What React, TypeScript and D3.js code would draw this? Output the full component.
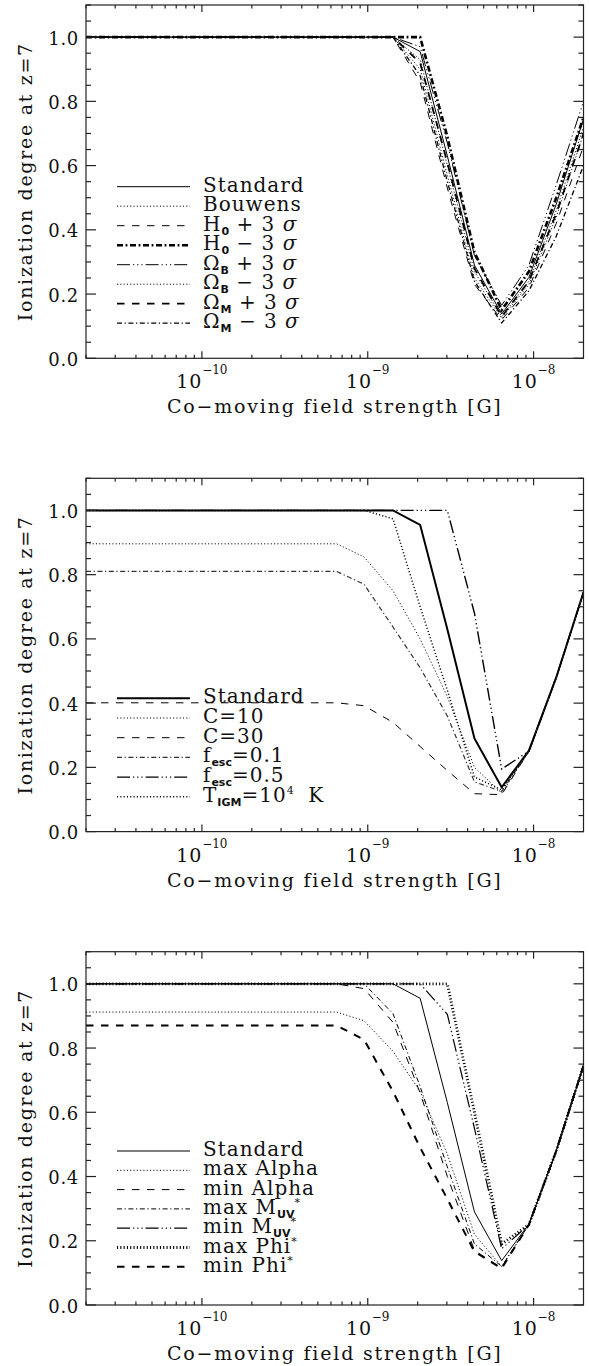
import React from 'react';
import * as d3 from 'd3';

// x grid: co-moving field strength [G]
const fieldStrength = [2e-11, 6.5e-10, 9.5e-10, 1.42e-9, 2.07e-9, 3.02e-9, 4.4e-9, 6.42e-9, 9.37e-9, 1.37e-8, 2e-8];

// panel 1: cosmological parameters
const p1Standard = [1, 1, 1, 1, 0.955, 0.63, 0.29, 0.138, 0.252, 0.48, 0.745];
const p1Bouwens = [1, 1, 1, 1, 0.93, 0.6, 0.27, 0.13, 0.24, 0.46, 0.72];
const p1H0Plus = [1, 1, 1, 1, 0.86, 0.53, 0.23, 0.12, 0.22, 0.42, 0.66];
const p1H0Minus = [1, 1, 1, 1, 1, 0.69, 0.33, 0.15, 0.27, 0.5, 0.75];
const p1ObPlus = [1, 1, 1, 1, 0.97, 0.67, 0.32, 0.165, 0.29, 0.54, 0.8];
const p1ObMinus = [1, 1, 1, 1, 0.9, 0.57, 0.25, 0.125, 0.23, 0.44, 0.7];
const p1OmPlus = [1, 1, 1, 1, 0.92, 0.61, 0.28, 0.13, 0.24, 0.45, 0.7];
const p1OmMinus = [1, 1, 1, 1, 0.88, 0.55, 0.24, 0.11, 0.21, 0.38, 0.6];

// panel 2: clumping, escape fraction, IGM temperature
const p2Standard = [1, 1, 1, 1, 0.955, 0.63, 0.29, 0.138, 0.252, 0.48, 0.745];
const p2C10 = [0.896, 0.896, 0.855, 0.75, 0.6, 0.42, 0.2, 0.12, 0.25, 0.48, 0.745];
const p2C30 = [0.401, 0.401, 0.392, 0.34, 0.265, 0.19, 0.118, 0.115, 0.25, 0.48, 0.745];
const p2Fesc01 = [0.81, 0.81, 0.77, 0.637, 0.51, 0.36, 0.155, 0.125, 0.25, 0.48, 0.745];
const p2Fesc05 = [1, 1, 1, 1, 1, 1, 0.68, 0.195, 0.25, 0.48, 0.745];
const p2Tigm = [1, 1, 1, 0.974, 0.7, 0.44, 0.17, 0.13, 0.25, 0.48, 0.745];

// panel 3: UV luminosity function parameters
const p3Standard = [1, 1, 1, 1, 0.955, 0.63, 0.29, 0.138, 0.252, 0.48, 0.745];
const p3MaxAlpha = [0.912, 0.912, 0.885, 0.79, 0.665, 0.47, 0.22, 0.12, 0.25, 0.48, 0.745];
const p3MinAlpha = [1, 1, 0.985, 0.88, 0.66, 0.4, 0.17, 0.115, 0.25, 0.48, 0.745];
const p3MaxMuv = [1, 1, 1, 0.907, 0.68, 0.43, 0.19, 0.12, 0.25, 0.48, 0.745];
const p3MinMuv = [1, 1, 1, 1, 1, 0.905, 0.55, 0.175, 0.25, 0.48, 0.745];
const p3MaxPhi = [1, 1, 1, 1, 1, 1, 0.6, 0.19, 0.25, 0.48, 0.745];
const p3MinPhi = [0.87, 0.87, 0.826, 0.665, 0.49, 0.33, 0.166, 0.114, 0.25, 0.48, 0.745];

const yMajor = [0, 0.2, 0.4, 0.6, 0.8, 1.0];
const xMajor = [1e-10, 1e-9, 1e-8];
const xMajorExp = ['−10', '−9', '−8'];

const FONT = 'DejaVu Serif';
const W = 589;
const H = 1366;
const BOX = { left: 86, right: 583.5, height: 353.3 };
const PANEL_TOPS = [5, 478.3, 951.7];

const DASH = {
  solid: undefined,
  dotted: '1.1 2.2',
  dashed: '7.5 7.5',
  dashDot: '5 2.6 1.2 2.6',
  thickDashDot: '6 2.6 1.8 2.6',
  dash3Dot: '13 3 1.2 3 1.2 3 1.2 3',
};

type Series = { values: number[]; dash?: string; width: number; color?: string; label: string };

const panels: { legendTop: number; rowGap: number; series: Series[] }[] = [
  {
    legendTop: 181.7,
    rowGap: 19.5,
    series: [
      { values: p1Standard, dash: DASH.solid, width: 1, label: 'Standard' },
      { values: p1Bouwens, dash: DASH.dotted, width: 1, label: 'Bouwens' },
      { values: p1H0Plus, dash: DASH.dashed, width: 1, label: 'H_{0} + 3 σ' },
      { values: p1H0Minus, dash: DASH.thickDashDot, width: 2.6, label: 'H_{0} − 3 σ' },
      { values: p1ObPlus, dash: DASH.dash3Dot, width: 1, label: 'Ω_{B} + 3 σ' },
      { values: p1ObMinus, dash: DASH.dotted, width: 1, label: 'Ω_{B} − 3 σ' },
      { values: p1OmPlus, dash: DASH.dashed, width: 1.8, label: 'Ω_{M} + 3 σ' },
      { values: p1OmMinus, dash: DASH.dashDot, width: 1.3, label: 'Ω_{M} − 3 σ' },
    ],
  },
  {
    legendTop: 220,
    rowGap: 19.7,
    series: [
      { values: p2Standard, dash: DASH.solid, width: 2, label: 'Standard' },
      { values: p2C10, dash: DASH.dotted, width: 1, label: 'C=10' },
      { values: p2C30, dash: DASH.dashed, width: 1, label: 'C=30' },
      { values: p2Fesc01, dash: DASH.dashDot, width: 1.2, color: '#333', label: 'f_{esc}=0.1' },
      { values: p2Fesc05, dash: DASH.dash3Dot, width: 1.4, label: 'f_{esc}=0.5' },
      { values: p2Tigm, dash: DASH.dotted, width: 1.5, label: 'T_{IGM}=10^{4}  K' },
    ],
  },
  {
    legendTop: 199.3,
    rowGap: 19.3,
    series: [
      { values: p3Standard, dash: DASH.solid, width: 1, label: 'Standard' },
      { values: p3MaxAlpha, dash: DASH.dotted, width: 1, label: 'max Alpha' },
      { values: p3MinAlpha, dash: DASH.dashed, width: 1, label: 'min Alpha' },
      { values: p3MaxMuv, dash: DASH.dashDot, width: 1, label: 'max M_{UV}^{*}' },
      { values: p3MinMuv, dash: DASH.dash3Dot, width: 1.2, label: 'min M_{UV}^{*}' },
      { values: p3MaxPhi, dash: DASH.dotted, width: 2.8, label: 'max Phi^{*}' },
      { values: p3MinPhi, dash: DASH.dashed, width: 2, label: 'min Phi^{*}' },
    ],
  },
];

const xScale = d3.scaleLog().domain([2e-11, 2e-8]).range([BOX.left, BOX.right]);

function RichLabel({ x, y, text }: { x: number; y: number; text: string }) {
  const parts = text.split(/(_\{[^}]*\}|\^\{[^}]*\}|σ)/).filter(Boolean);
  let shift = 0;
  return (
    <text x={x} y={y} fontFamily={FONT} fontSize={20} letterSpacing={1} fill="#111" style={{ whiteSpace: 'pre' }}>
      {parts.map((p, i) => {
        if (p.startsWith('_{')) {
          const dy = 4 - shift;
          shift = 4;
          return (
            <tspan key={i} dy={dy} fontSize={11} fontFamily="DejaVu Sans" fontWeight="bold" letterSpacing={0}>
              {p.slice(2, -1)}
            </tspan>
          );
        }
        if (p.startsWith('^{')) {
          const dy = -8 - shift;
          shift = -8;
          return (
            <tspan key={i} dy={dy} fontSize={11} letterSpacing={0}>
              {p.slice(2, -1)}
            </tspan>
          );
        }
        const dy = -shift;
        shift = 0;
        return (
          <tspan key={i} dy={dy} fontStyle={p === 'σ' ? 'italic' : undefined}>
            {p}
          </tspan>
        );
      })}
    </text>
  );
}

function Panel({ top, idx }: { top: number; idx: number }) {
  const cfg = panels[idx];
  const bottom = top + BOX.height;
  const y = d3.scaleLinear().domain([0, 1.1]).range([bottom, top]);
  const line = d3
    .line<number>()
    .x((_, i) => xScale(fieldStrength[i]))
    .y((v) => y(v));
  const clipId = `clip-${idx}`;

  const yMinor = d3.range(0, 1.1001, 0.05).filter((v) => !yMajor.some((m) => Math.abs(m - v) < 1e-6));
  const xMinor: number[] = [];
  for (let e = -11; e <= -8; e++) {
    for (let k = 2; k <= 9; k++) {
      const v = k * Math.pow(10, e);
      if (v >= 2e-11 && v < 2e-8) xMinor.push(v);
    }
  }
  const xTickLen = 7;
  const yTickLen = 10;
  const cx = (BOX.left + BOX.right) / 2;

  return (
    <g>
      <defs>
        <clipPath id={clipId}>
          <rect x={BOX.left} y={top} width={BOX.right - BOX.left} height={BOX.height} />
        </clipPath>
      </defs>

      <g clipPath={`url(#${clipId})`} fill="none">
        {cfg.series.map((s, i) => (
          <path
            key={i}
            d={line(s.values) || ''}
            stroke={s.color || '#000'}
            strokeWidth={s.width}
            strokeDasharray={s.dash}
          />
        ))}
      </g>

      {/* axes box and ticks */}
      <g stroke="#222" strokeWidth={1.2} fill="none">
        <rect x={BOX.left} y={top} width={BOX.right - BOX.left} height={BOX.height} />
        {yMajor.map((v) => (
          <g key={`ym${v}`}>
            <line x1={BOX.left} x2={BOX.left + yTickLen} y1={y(v)} y2={y(v)} />
            <line x1={BOX.right} x2={BOX.right - yTickLen} y1={y(v)} y2={y(v)} />
          </g>
        ))}
        {yMinor.map((v) => (
          <g key={`yn${v}`}>
            <line x1={BOX.left} x2={BOX.left + yTickLen / 2} y1={y(v)} y2={y(v)} />
            <line x1={BOX.right} x2={BOX.right - yTickLen / 2} y1={y(v)} y2={y(v)} />
          </g>
        ))}
        {xMajor.map((v) => (
          <g key={`xm${v}`}>
            <line x1={xScale(v)} x2={xScale(v)} y1={bottom} y2={bottom - xTickLen} />
            <line x1={xScale(v)} x2={xScale(v)} y1={top} y2={top + xTickLen} />
          </g>
        ))}
        {xMinor.map((v) => (
          <g key={`xn${v}`}>
            <line x1={xScale(v)} x2={xScale(v)} y1={bottom} y2={bottom - xTickLen / 2} />
            <line x1={xScale(v)} x2={xScale(v)} y1={top} y2={top + xTickLen / 2} />
          </g>
        ))}
      </g>

      {/* tick labels */}
      <g fontFamily={FONT} fill="#111">
        {yMajor.map((v) => (
          <text key={`yl${v}`} x={79} y={y(v) + 7.5} fontSize={18} letterSpacing={0.7} textAnchor="end">
            {v.toFixed(1)}
          </text>
        ))}
        {xMajor.map((v, i) => (
          <text key={`xl${v}`} x={xScale(v)} y={bottom + 30} fontSize={19} letterSpacing={0.8} textAnchor="middle">
            10
            <tspan dy={-14} fontSize={12} letterSpacing={0}>
              {xMajorExp[i]}
            </tspan>
          </text>
        ))}
        <text x={cx} y={bottom + 55} fontSize={19} letterSpacing={1.8} textAnchor="middle">
          Co−moving field strength [G]
        </text>
        <text
          transform={`translate(32, ${(top + bottom) / 2}) rotate(-90)`}
          fontSize={19}
          letterSpacing={1.7}
          textAnchor="middle"
        >
          Ionization degree at z=7
        </text>
      </g>

      {/* legend */}
      <g>
        {cfg.series.map((s, i) => {
          const ly = top + cfg.legendTop + i * cfg.rowGap;
          return (
            <g key={`lg${i}`}>
              <line
                x1={117}
                x2={190}
                y1={ly}
                y2={ly}
                stroke={s.color || '#000'}
                strokeWidth={s.width}
                strokeDasharray={s.dash}
              />
              <RichLabel x={203} y={ly + 5} text={s.label} />
            </g>
          );
        })}
      </g>
    </g>
  );
}

export default function App() {
  return (
    <svg
      width={W}
      height={H}
      viewBox={`0 0 ${W} ${H}`}
      style={{ position: 'absolute', left: 0, top: 0, display: 'block', background: '#fff' }}
    >
      <rect width={W} height={H} fill="#fff" />
      {PANEL_TOPS.map((t, i) => (
        <Panel key={i} top={t} idx={i} />
      ))}
    </svg>
  );
}
